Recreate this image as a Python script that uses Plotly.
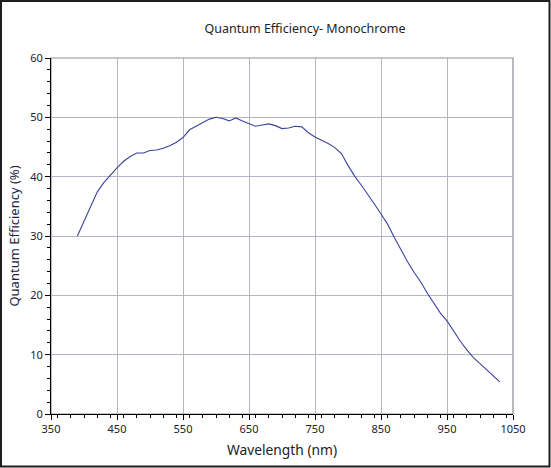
import plotly.graph_objects as go

# quantum efficiency curve (nm, %)
wavelength = [390, 400, 410, 420, 430, 440, 450, 460, 470, 480, 490, 500, 510, 520, 530,
              540, 550, 560, 570, 580, 590, 600, 610, 620, 630, 640, 650, 660, 670, 680,
              690, 700, 710, 720, 730, 740, 750, 760, 770, 780, 790, 800, 810, 820, 830,
              840, 850, 860, 870, 880, 890, 900, 910, 920, 930, 940, 950, 960, 970, 980,
              990, 1000, 1010, 1020, 1030]
qe = [30.0, 32.5, 35.0, 37.4, 39.0, 40.3, 41.5, 42.6, 43.4, 44.0, 44.0, 44.4, 44.5, 44.8, 45.2,
      45.8, 46.6, 47.9, 48.5, 49.2, 49.7, 50.0, 49.8, 49.4, 49.9, 49.4, 48.9, 48.5, 48.7, 48.9,
      48.6, 48.1, 48.2, 48.5, 48.4, 47.4, 46.7, 46.2, 45.6, 44.9, 43.9, 41.9, 40.1, 38.6, 37.1,
      35.4, 33.7, 32.0, 29.8, 27.7, 25.7, 23.9, 22.3, 20.4, 18.6, 17.0, 15.7, 13.9, 12.3, 10.8,
      9.5, 8.5, 7.5, 6.4, 5.4]
xticks = [350, 450, 550, 650, 750, 850, 950, 1050]
yticks = [0, 10, 20, 30, 40, 50, 60]

W, H = 551, 468
ml, mr, mt, mb = 51, 38, 58, 54
pw, ph = W - ml - mr, H - mt - mb
grid = '#b3b6c4'
txt = '#222222'

fig = go.Figure(go.Scatter(x=wavelength, y=qe, mode='lines',
                           line=dict(color='#3d42a0', width=1.1), hoverinfo='skip'))

# gray frame on top/right of the plot, black outer frame of the picture
fig.add_shape(type='rect', xref='paper', yref='paper', x0=0, x1=1, y0=0, y1=1,
              line=dict(color='#8a9098', width=1.2), layer='below')
fig.add_shape(type='rect', xref='paper', yref='paper',
              x0=-(ml - 1) / pw, x1=1 + (mr - 1.5) / pw,
              y0=-(mb - 1.5) / ph, y1=1 + (mt - 1) / ph,
              line=dict(color='#1e1e1e', width=2))

fig.update_layout(
    width=W, height=H, template='plotly_white', showlegend=False,
    paper_bgcolor='white', plot_bgcolor='white',
    margin=dict(l=ml, r=mr, t=mt, b=mb),
    font=dict(family='Noto Sans, Open Sans, sans-serif', color=txt, size=11),
    title=dict(text='Quantum Efficiency- Monochrome', x=305 / W, xanchor='center',
               y=1 - 29 / H, yanchor='middle', font=dict(size=12.5, color=txt)),
    xaxis=dict(range=[350, 1050], tickvals=xticks, showgrid=True, gridcolor=grid, gridwidth=1,
               zeroline=False, showline=True, linecolor='black', linewidth=1,
               ticks='outside', ticklen=5, tickcolor='black',
               minor=dict(dtick=20, ticks='outside', ticklen=3, tickcolor='black', showgrid=False),
               tickfont=dict(size=11, color=txt),
               title=dict(text='Wavelength (nm)', font=dict(size=13.8, color=txt), standoff=10)),
    yaxis=dict(range=[0, 60], tickvals=yticks, showgrid=True, gridcolor=grid, gridwidth=1,
               zeroline=False, showline=True, linecolor='black', linewidth=1,
               ticks='outside', ticklen=5, tickcolor='black',
               minor=dict(dtick=2, ticks='outside', ticklen=3, tickcolor='black', showgrid=False),
               tickfont=dict(size=11, color=txt),
               title=dict(text='Quantum Efficiency (%)', font=dict(size=13, color='#1d2440'), standoff=7)),
)

# drop the default 8px page margin so the figure sits flush in the window
fig.write_html('out.html', config={'displayModeBar': False},
               post_script="document.body.style.margin='0';")
